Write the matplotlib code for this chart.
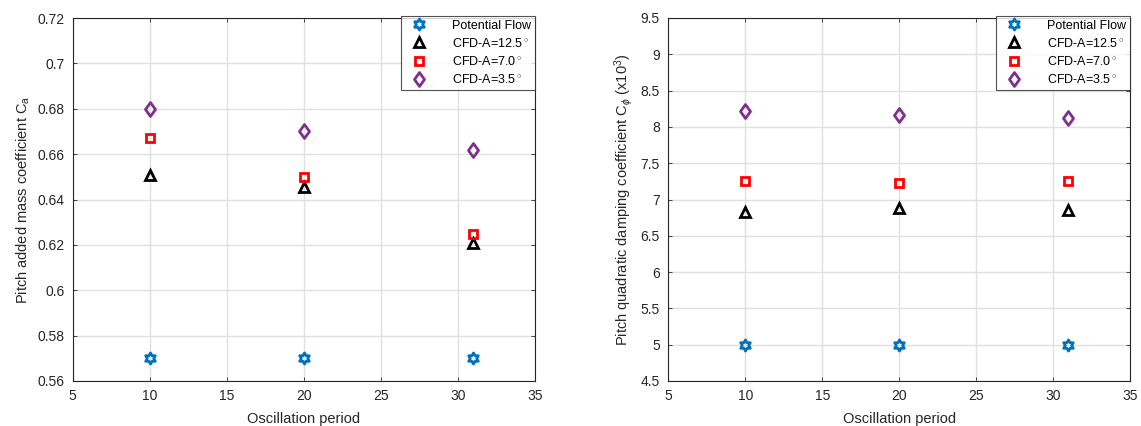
import matplotlib
matplotlib.use("Agg")
import matplotlib.pyplot as plt
import numpy as np
from matplotlib.path import Path
from matplotlib.ticker import FuncFormatter, MultipleLocator

plt.rcParams['font.family'] = ['Liberation Sans', 'DejaVu Sans']
plt.rcParams['mathtext.fontset'] = 'custom'
plt.rcParams['mathtext.rm'] = 'Liberation Sans'
plt.rcParams['mathtext.it'] = 'Liberation Sans:italic'

# ---- data ----
periods = [10, 20, 31]
labels = ['Potential Flow', 'CFD-A=12.5$^\\circ$', 'CFD-A=7.0$^\\circ$', 'CFD-A=3.5$^\\circ$']

ca_potential = [0.570, 0.570, 0.570]
ca_cfd125 = [0.6508, 0.6457, 0.6207]
ca_cfd70 = [0.667, 0.650, 0.625]
ca_cfd35 = [0.680, 0.670, 0.662]

cq_potential = [5.0, 5.0, 5.0]
cq_cfd125 = [6.83, 6.88, 6.86]
cq_cfd70 = [7.26, 7.23, 7.25]
cq_cfd35 = [8.22, 8.16, 8.12]

# hexagram marker (star of David)
ang_out = np.deg2rad(90 + 60 * np.arange(6))
ang_in = ang_out + np.deg2rad(30)
r_in = 1 / np.sqrt(3)
verts = []
for ao, ai in zip(ang_out, ang_in):
    verts.append((np.cos(ao), np.sin(ao)))
    verts.append((r_in * np.cos(ai), r_in * np.sin(ai)))
verts.append(verts[0])
codes = [Path.MOVETO] + [Path.LINETO] * 11 + [Path.CLOSEPOLY]
hexagram = Path(verts, codes)

# MATLAB-like diamond (wider than matplotlib's thin diamond)
diamond = Path([(0, 1), (0.72, 0), (0, -1), (-0.72, 0), (0, 1)],
               [Path.MOVETO, Path.LINETO, Path.LINETO, Path.LINETO, Path.CLOSEPOLY])

styles = [
    dict(marker=hexagram, color='#0072BD', ms=8),
    dict(marker='^', color='black', ms=7.5),
    dict(marker='s', color='#FF0000', ms=6),
    dict(marker=diamond, color='#7E2F8E', ms=10),
]

fig = plt.figure(figsize=(11.41, 4.26), dpi=100)
W, H = 1141, 426
ax1 = fig.add_axes([72.7 / W, (H - 381) / H, (535 - 72.7) / W, (381 - 18) / H])
ax2 = fig.add_axes([668.3 / W, (H - 381) / H, (1130 - 668.3) / W, (381 - 18) / H])

fmt = FuncFormatter(lambda v, p: ('%g' % round(v, 4)))

def setup(ax, series, ylim, ystep, ylabel):
    for s, lab, st in zip(series, labels, styles):
        ax.plot(periods, s, linestyle='none', marker=st['marker'], markersize=st['ms'],
                markerfacecolor='none', markeredgecolor=st['color'], markeredgewidth=2,
                label=lab)
    ax.set_xlim(5, 35)
    ax.set_ylim(*ylim)
    ax.xaxis.set_major_locator(MultipleLocator(5))
    ax.yaxis.set_major_locator(MultipleLocator(ystep))
    ax.yaxis.set_major_formatter(fmt)
    ax.grid(True, color='#E0E0E0', linewidth=1.0)
    ax.set_axisbelow(True)
    for sp in ax.spines.values():
        sp.set_color('#262626')
        sp.set_linewidth(0.8)
    ax.tick_params(direction='in', length=3, width=0.6, colors='#262626',
                   labelsize=10, top=True, right=True, pad=6)
    for t in ax.get_xticklabels() + ax.get_yticklabels():
        t.set_color('#262626')
    ax.set_xlabel('Oscillation period', fontsize=10.5, color='#262626', labelpad=6)
    ax.set_ylabel(ylabel, fontsize=10.5, color='#262626', labelpad=4)
    leg = ax.legend(loc='upper right', bbox_to_anchor=(1.0, 1.006), frameon=True,
                    fancybox=False, edgecolor='#262626', fontsize=9, borderpad=0.3,
                    labelspacing=0.42, handletextpad=1.6, handlelength=2.2,
                    borderaxespad=0.0)
    leg.get_frame().set_linewidth(0.8)

setup(ax1, [ca_potential, ca_cfd125, ca_cfd70, ca_cfd35], (0.56, 0.72), 0.02,
      'Pitch added mass coefficient C$_\\mathrm{a}$')
setup(ax2, [cq_potential, cq_cfd125, cq_cfd70, cq_cfd35], (4.5, 9.5), 0.5,
      'Pitch quadratic damping coefficient C$_{\\phi}$ (x10$^3$)')

fig.savefig('out.png', dpi=100, facecolor='white')
